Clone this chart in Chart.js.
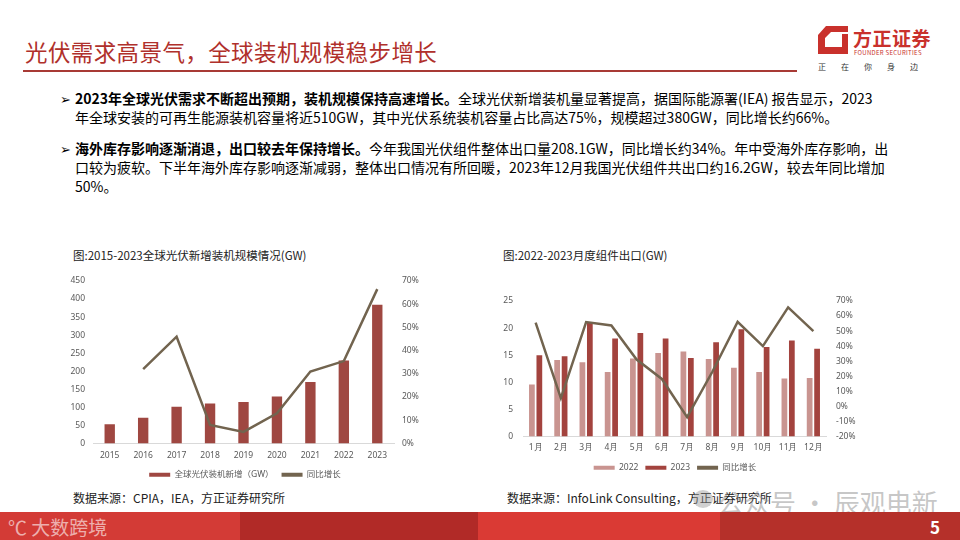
<!DOCTYPE html>
<html>
<head>
<meta charset="utf-8">
<script src="https://cdn.jsdelivr.net/npm/chart.js@4.4.1/dist/chart.umd.min.js"></script>
<style>
  html, body { margin: 0; padding: 0; }
  body { width: 960px; height: 540px; position: relative; overflow: hidden; background: #fff;
         font-family: "Noto Sans CJK SC", "Noto Sans", sans-serif; color: #000; }
  .abs { position: absolute; white-space: nowrap; }
  #title { left: 25px; top: 35px; font-size: 22.5px; color: #B0302B; letter-spacing: 0.4px; }
  #rule { left: 23px; top: 70px; width: 774px; height: 2px; background: #A83A35; }
  .txt { font-size: 14px; line-height: 19px; }
  .txt b { font-weight: 700; }
  .bul { font-size: 13px; }
  .ctitle { font-size: 11.5px; color: #222; }
  .src { font-size: 12px; color: #222; }
  #foot div { position: absolute; top: 512px; height: 28px; }
  canvas { position: absolute; }
</style>
</head>
<body>

<div id="title" class="abs">光伏需求高景气，全球装机规模稳步增长</div>
<div id="rule" class="abs"></div>

<!-- logo -->
<svg class="abs" style="left:818px;top:26px" width="32" height="28" viewBox="0 0 32 28">
  <polygon points="8,0 30,0 30,6 13,6 7,12 7,21 24,21 24,8 30,8 30,28 0,28 0,9" fill="#C9312C"/>
</svg>
<div class="abs" style="left:853px;top:24px;font-size:19px;font-weight:700;color:#C9312C;letter-spacing:0.5px">方正证券</div>
<div class="abs" style="left:854px;top:48px;font-size:6px;color:#C9312C;letter-spacing:0.3px">FOUNDER SECURITIES</div>
<div class="abs" style="left:818px;top:61px;font-size:8px;color:#333;letter-spacing:15px">正在你身边</div>

<!-- bullets -->
<div class="abs bul" style="left:60px;top:89px">➢</div>
<div class="abs txt" style="left:75px;top:89px"><b>2023年全球光伏需求不断超出预期，装机规模保持高速增长。</b>全球光伏新增装机量显著提高，据国际能源署(IEA) 报告显示，2023</div>
<div class="abs txt" style="left:75px;top:108px">年全球安装的可再生能源装机容量将近510GW，其中光伏系统装机容量占比高达75%，规模超过380GW，同比增长约66%。</div>
<div class="abs bul" style="left:60px;top:139px">➢</div>
<div class="abs txt" style="left:75px;top:139px"><b>海外库存影响逐渐消退，出口较去年保持增长。</b>今年我国光伏组件整体出口量208.1GW，同比增长约34%。年中受海外库存影响，出</div>
<div class="abs txt" style="left:75px;top:158px">口较为疲软。下半年海外库存影响逐渐减弱，整体出口情况有所回暖，2023年12月我国光伏组件共出口约16.2GW，较去年同比增加</div>
<div class="abs txt" style="left:75px;top:177px">50%。</div>

<div class="abs ctitle" style="left:73px;top:247px">图:2015-2023全球光伏新增装机规模情况(GW)</div>
<div class="abs ctitle" style="left:503px;top:247px">图:2022-2023月度组件出口(GW)</div>

<canvas id="c1" style="left:60px;top:263px" width="370" height="226"></canvas>
<canvas id="c2" style="left:490px;top:284px" width="370" height="198"></canvas>

<div class="abs src" style="left:73px;top:489px">数据来源：CPIA，IEA，方正证券研究所</div>
<div class="abs src" style="left:507px;top:489px">数据来源：InfoLink Consulting，方正证券研究所</div>

<!-- watermark -->
<div class="abs" style="left:718px;top:483px;font-size:26px;color:rgba(150,150,150,0.55)">公众号 · 辰观电新</div>
<div class="abs" style="left:693px;top:490px;width:20px;height:18px;border-radius:50%;background:rgba(150,150,150,0.45)"></div>

<div id="foot">
  <div style="left:0;width:240px;background:#D33B36"></div>
  <div style="left:240px;width:238px;background:#B12A27"></div>
  <div style="left:478px;width:242px;background:#DA3A34"></div>
  <div style="left:720px;width:240px;background:#B5302A"></div>
</div>
<div class="abs" style="left:8px;top:513px;font-size:19px;color:rgba(255,255,255,0.6)">℃ 大数跨境</div>
<div class="abs" style="left:930px;top:514px;font-size:17px;font-weight:700;color:#fff">5</div>

<script>
// 图1：全球光伏新增装机
var years = ['2015', '2016', '2017', '2018', '2019', '2020', '2021', '2022', '2023'];
var newInstall = [53, 71, 102, 111, 115, 130, 170, 230, 384];
var installYoY = [null, 0.32, 0.46, 0.08, 0.05, 0.13, 0.31, 0.355, 0.665];

// 图2：月度组件出口
var months = ['1月', '2月', '3月', '4月', '5月', '6月', '7月', '8月', '9月', '10月', '11月', '12月'];
var export2022 = [9.6, 14.1, 13.7, 11.9, 14.4, 15.4, 15.7, 14.3, 12.7, 11.9, 10.7, 10.8];
var export2023 = [15.0, 14.8, 21.1, 18.1, 19.1, 18.1, 14.5, 17.4, 19.8, 16.5, 17.7, 16.2];
var exportYoY = [0.556, 0.055, 0.56, 0.537, 0.311, 0.182, -0.071, 0.23, 0.561, 0.40, 0.658, 0.50];

var LINE = '#72644F';
var TICK = { size: 8.5, family: 'Noto Sans' };

Chart.defaults.font.family = '"Noto Sans", "Noto Sans CJK SC", sans-serif';
Chart.defaults.color = '#595959';
Chart.defaults.animation = false;
Chart.defaults.responsive = false;

function pct(v) { return Math.round(v * 100) + '%'; }

// keep legend in dataset order, all as flat boxes
function legendLabels(chart) {
    return Chart.defaults.plugins.legend.labels.generateLabels(chart)
        .sort(function(a, b) { return a.datasetIndex - b.datasetIndex; })
        .map(function(l) {
            l.lineWidth = 0;
            return l;
        });
}

function fixWidth(w) { return function(s) { s.width = w; }; }
function fixHeight(h) { return function(s) { s.height = h; }; }

var noGrid = { display: false, drawTicks: false };

new Chart(document.getElementById('c1'), {
    type: 'bar',
    data: {
        labels: years,
        datasets: [{
            type: 'bar',
            label: '全球光伏装机新增（GW）',
            data: newInstall,
            backgroundColor: '#9F4741',
            barPercentage: 1,
            categoryPercentage: 0.31,
            yAxisID: 'y',
            order: 2
        }, {
            type: 'line',
            label: '同比增长',
            data: installYoY,
            borderColor: LINE,
            backgroundColor: LINE,
            borderWidth: 2.5,
            pointRadius: 0,
            tension: 0,
            yAxisID: 'y1',
            order: 1
        }]
    },
    options: {
        layout: { padding: { top: 18, bottom: 0, left: 0, right: 0 } },
        plugins: {
            legend: {
                position: 'bottom',
                labels: { boxWidth: 21, boxHeight: 4, font: { size: 8.5 }, padding: 8, generateLabels: legendLabels }
            },
            tooltip: { enabled: false }
        },
        scales: {
            x: {
                grid: noGrid,
                border: { color: '#D9D9D9' },
                ticks: { font: TICK, padding: 7 },
                afterFit: fixHeight(19)
            },
            y: {
                min: 0, max: 450,
                ticks: { stepSize: 50, font: TICK, padding: 8 },
                grid: noGrid,
                border: { display: false },
                afterFit: fixWidth(33)
            },
            y1: {
                position: 'right',
                min: 0, max: 0.7,
                ticks: { stepSize: 0.1, font: TICK, padding: 8, callback: pct },
                grid: noGrid,
                border: { display: false },
                afterFit: fixWidth(36)
            }
        }
    }
});

new Chart(document.getElementById('c2'), {
    type: 'bar',
    data: {
        labels: months,
        datasets: [{
            type: 'bar',
            label: '2022',
            data: export2022,
            backgroundColor: '#C99490',
            barPercentage: 0.77,
            categoryPercentage: 0.59,
            yAxisID: 'y',
            order: 2
        }, {
            type: 'bar',
            label: '2023',
            data: export2023,
            backgroundColor: '#A3433E',
            barPercentage: 0.77,
            categoryPercentage: 0.59,
            yAxisID: 'y',
            order: 2
        }, {
            type: 'line',
            label: '同比增长',
            data: exportYoY,
            borderColor: LINE,
            backgroundColor: LINE,
            borderWidth: 2.5,
            pointRadius: 0,
            tension: 0,
            yAxisID: 'y1',
            order: 1
        }]
    },
    options: {
        layout: { padding: { top: 17, bottom: 0, left: 0, right: 0 } },
        plugins: {
            legend: {
                position: 'bottom',
                labels: { boxWidth: 21, boxHeight: 4, font: { size: 8.5 }, padding: 7, generateLabels: legendLabels }
            },
            tooltip: { enabled: false }
        },
        scales: {
            x: {
                grid: noGrid,
                border: { color: '#D9D9D9' },
                ticks: { font: TICK, padding: 6 },
                afterFit: fixHeight(20)
            },
            y: {
                min: 0, max: 25,
                ticks: { stepSize: 5, font: TICK, padding: 10 },
                grid: noGrid,
                border: { display: false },
                afterFit: fixWidth(33)
            },
            y1: {
                position: 'right',
                min: -0.2, max: 0.7,
                ticks: { stepSize: 0.1, font: TICK, padding: 10, callback: pct },
                grid: noGrid,
                border: { display: false },
                afterFit: fixWidth(34)
            }
        }
    }
});
</script>
</body>
</html>
